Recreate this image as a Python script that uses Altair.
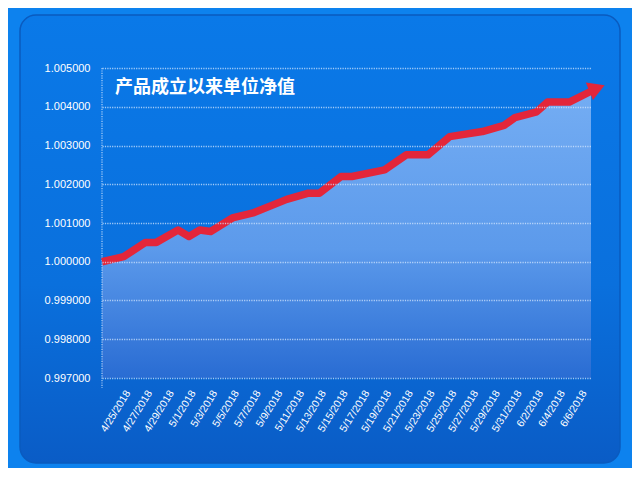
import altair as alt
import pandas as pd

# --- data ---
dates = ["2018/04/23", "2018/04/25", "2018/04/27", "2018/04/28", "2018/04/30",
         "2018/05/01", "2018/05/02", "2018/05/03", "2018/05/05", "2018/05/07",
         "2018/05/10", "2018/05/12", "2018/05/13", "2018/05/15", "2018/05/16",
         "2018/05/19", "2018/05/21", "2018/05/23", "2018/05/25", "2018/05/28",
         "2018/05/30", "2018/05/31", "2018/06/02", "2018/06/03", "2018/06/05",
         "2018/06/07"]
values = [1.00000, 1.00013, 1.00050, 1.00050, 1.00082,
          1.00065, 1.00082, 1.00078, 1.00113, 1.00127,
          1.00161, 1.00177, 1.00177, 1.00220, 1.00220,
          1.00237, 1.00276, 1.00276, 1.00323, 1.00336,
          1.00352, 1.00372, 1.00387, 1.00412, 1.00412,
          1.00440]
y_ticks = [0.997, 0.998, 0.999, 1.000, 1.001, 1.002, 1.003, 1.004, 1.005]
x_tick_days = [(4, 25), (4, 27), (4, 29), (5, 1), (5, 3), (5, 5), (5, 7), (5, 9),
               (5, 11), (5, 13), (5, 15), (5, 17), (5, 19), (5, 21), (5, 23),
               (5, 25), (5, 27), (5, 29), (5, 31), (6, 2), (6, 4), (6, 6)]
x_domain = [(4, 23), (6, 7)]
title_text = "产品成立以来单位净值"

df = pd.DataFrame({"date": dates, "nav": values})
last = pd.DataFrame({"date": [dates[-1]], "nav": [values[-1]]})

W, H = 489, 310

xscale = alt.Scale(domain=[alt.DateTime(year=2018, month=m, date=d) for m, d in x_domain])
yscale = alt.Scale(domain=[y_ticks[0], y_ticks[-1]], zero=False, nice=False)

xaxis = alt.Axis(
    values=[alt.DateTime(year=2018, month=m, date=d) for m, d in x_tick_days],
    format="%-m/%-d/%Y", labelAngle=302, labelColor="white", labelFontSize=10.5,
    labelFont="Liberation Sans", ticks=False, domain=False, grid=False,
    labelPadding=13, labelOffset=4, title=None, labelOverlap=False,
    labelBound=False, labelFlush=False, zindex=1,
)
yaxis = alt.Axis(
    values=y_ticks, format=".6f", labelColor="white", labelFontSize=11,
    labelFont="Liberation Sans", ticks=False, domain=False, grid=True,
    gridColor="#d6e8ff", gridOpacity=0.75, gridDash=[1.2, 1.2], gridWidth=1.6,
    labelPadding=12, title=None, zindex=1, labelOverlap=False,
)

X = alt.X("date:T", scale=xscale, axis=xaxis)
Y = alt.Y("nav:Q", scale=yscale, axis=yaxis)

panel = alt.Chart(pd.DataFrame({"k": [0]})).mark_rect(
    cornerRadius=16,
    stroke="#0a5bbf", strokeWidth=1.5,
    color=alt.Gradient(gradient="linear", x1=0, y1=0, x2=0, y2=1,
                       stops=[alt.GradientStop(color="#0a79e8", offset=0),
                              alt.GradientStop(color="#0a70dd", offset=0.6),
                              alt.GradientStop(color="#0a5cc6", offset=1)]),
).encode(x=alt.value(-82), x2=alt.value(518), y=alt.value(-53), y2=alt.value(395))

base = alt.Chart(df)

area = base.mark_area(
    color=alt.Gradient(gradient="linear", x1=0, y1=0, x2=0, y2=1,
                       stops=[alt.GradientStop(color="#74adf3", offset=0),
                              alt.GradientStop(color="#5c9aeb", offset=0.55),
                              alt.GradientStop(color="#296cd3", offset=1)]),
).encode(x=X, y=Y, y2=alt.Y2(datum=y_ticks[0]))

vline = alt.Chart(pd.DataFrame({"k": [0]})).mark_rule(
    color="#d6e8ff", opacity=0.8, strokeDash=[1.2, 1.2], strokeWidth=1.2
).encode(x=alt.value(0), y=alt.value(0), y2=alt.value(H + 10))

line = base.mark_line(color="#e3263a", strokeWidth=7.5, strokeJoin="round").encode(x=X, y=Y)

arrow = alt.Chart(last).mark_point(
    shape="triangle-right", filled=True, color="#e3263a", opacity=1,
    size=360, angle=338, xOffset=6, yOffset=-3, strokeWidth=0,
).encode(x=X, y=Y)

title = alt.Chart(pd.DataFrame({"t": [title_text]})).mark_text(
    align="left", baseline="middle", color="white", fontSize=18, fontWeight="bold",
    font="Noto Sans CJK SC",
).encode(text="t:N", x=alt.value(13), y=alt.value(20))

chart = alt.layer(panel, area, vline, line, arrow, title).properties(
    width=W, height=H,
    background="#0d82ee",
    padding={"left": 94, "top": 60, "right": 41, "bottom": 90},
    autosize=alt.AutoSizeParams(type="none"),
).configure_view(stroke=None)

chart.save("out.html", embed_options={"renderer": "svg", "actions": False})
